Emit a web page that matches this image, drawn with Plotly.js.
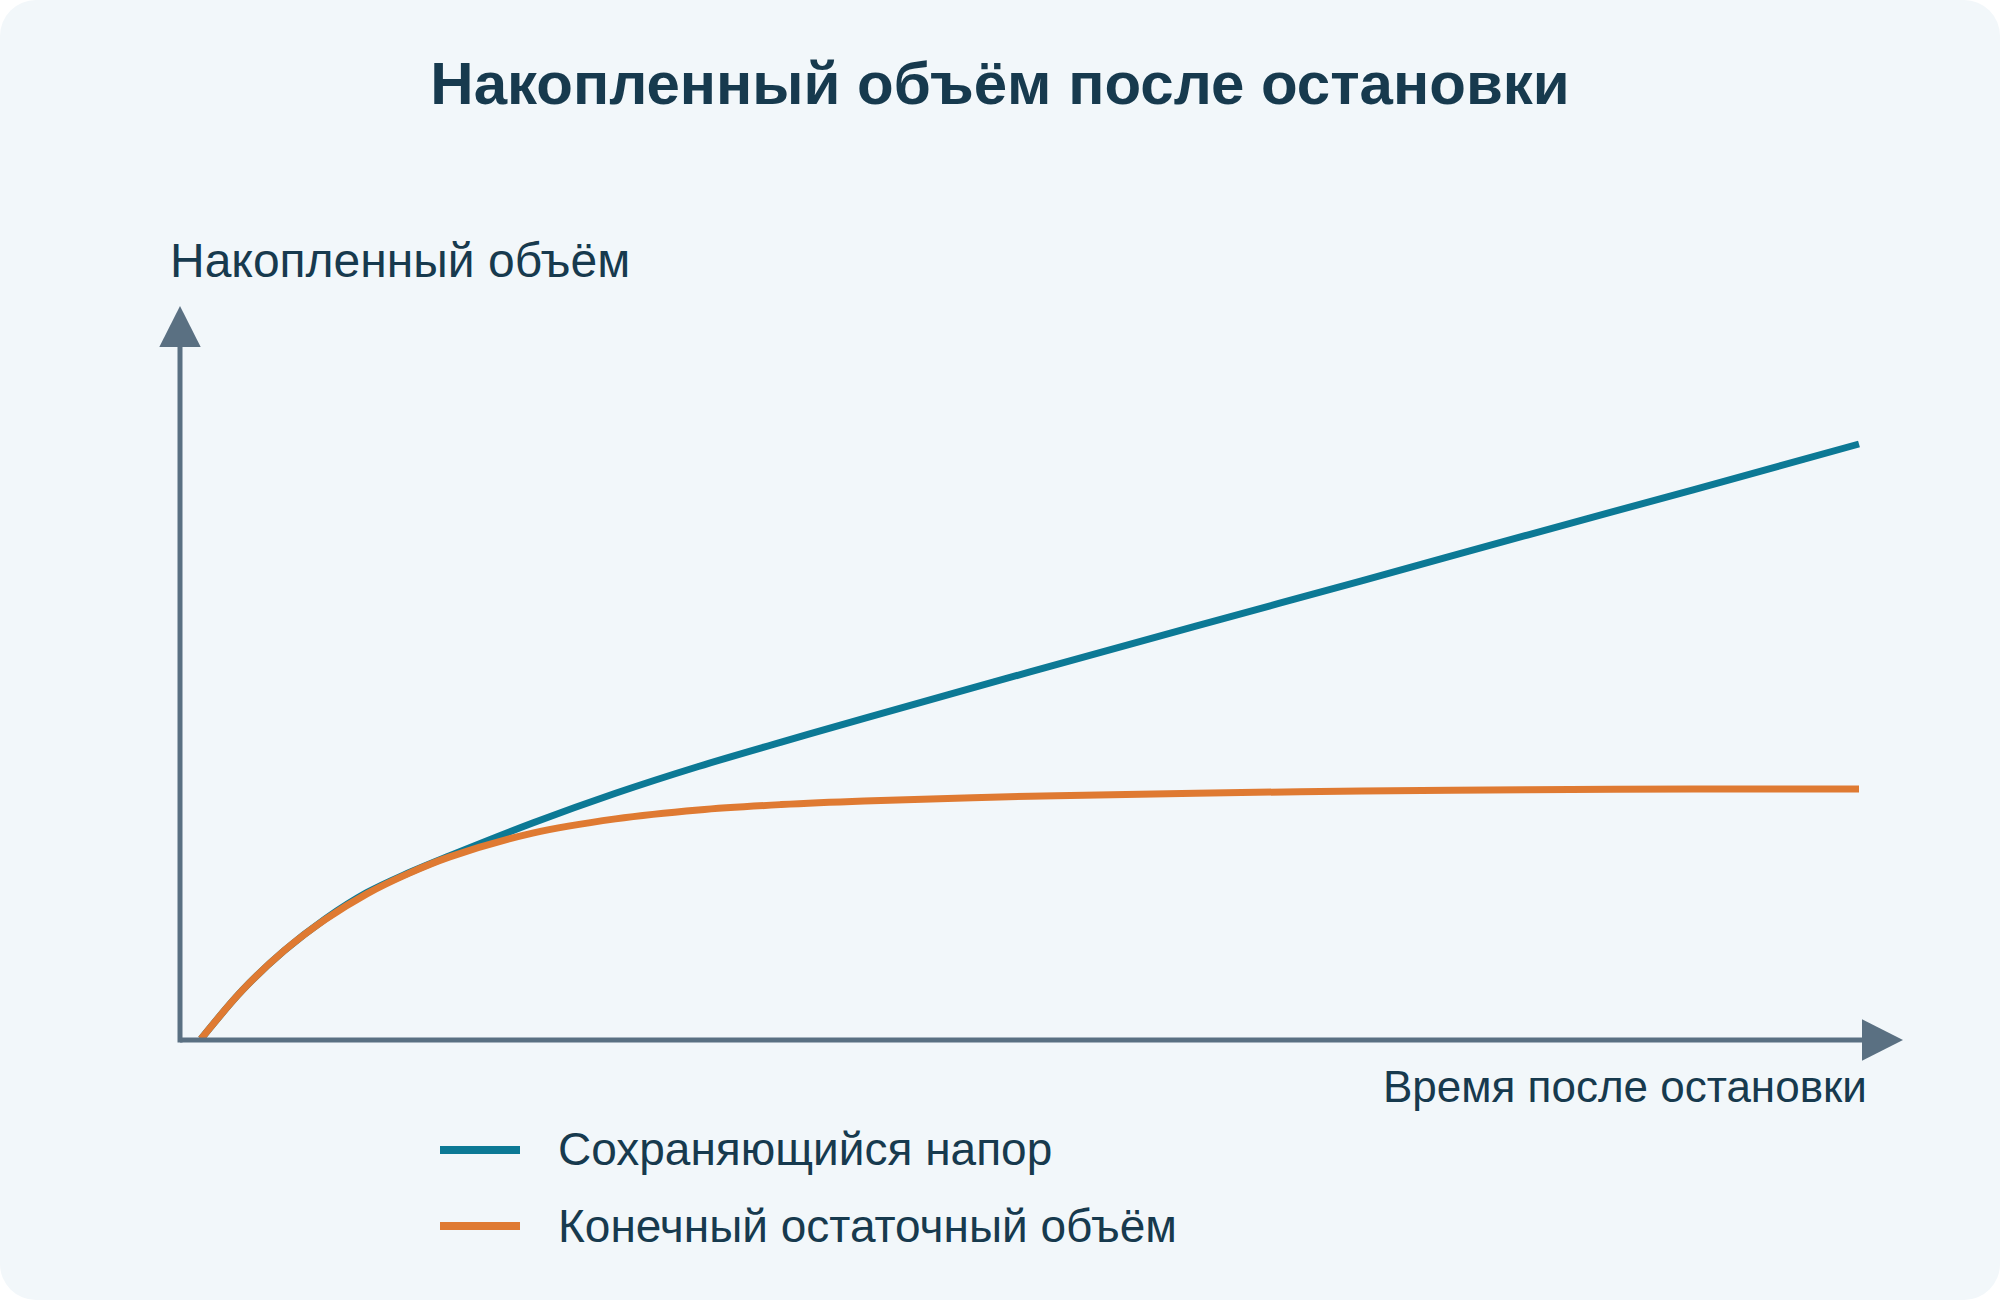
<!DOCTYPE html>
<html>
<head>
<meta charset="utf-8">
<script src="https://cdn.plot.ly/plotly-3.0.1.min.js"></script>
<style>
html, body { margin: 0; padding: 0; background: #ffffff; }
#card { position: absolute; left: 0; top: 0; width: 2000px; height: 1300px; border-radius: 36px; background: #f2f7fa; overflow: hidden; }
#chart { width: 2000px; height: 1300px; }
</style>
</head>
<body>
<div id="card"><div id="chart"></div></div>
<script>
// ---- data ----
const chartTitle = "Накопленный объём после остановки";
const xAxisLabel = "Время после остановки";
const yAxisLabel = "Накопленный объём";
const seriesNames = ["Сохраняющийся напор", "Конечный остаточный объём"];
const time          = [0, 0.25, 0.5, 0.75, 1, 1.25, 1.5, 2, 2.5, 3, 3.5, 4, 5, 6, 7, 8, 9, 10];
const sustainedHead = [0, 0.82, 1.48, 2.02, 2.46, 2.79, 3.08, 3.63, 4.13, 4.58, 4.99, 5.39, 6.17, 6.94, 7.70, 8.47, 9.23, 10.0];
const finiteVolume  = [0, 0.82, 1.48, 2.01, 2.44, 2.78, 3.06, 3.46, 3.70, 3.85, 3.94, 4.00, 4.08, 4.13, 4.17, 4.19, 4.20, 4.20];

// ---- style ----
const W = 2000, H = 1300;
const plotL = 180, plotR = 1903, plotT = 306, plotB = 1040;
const textColor = "#173a4e";
const axisColor = "#5a7082";
const seriesColors = ["#0c7995", "#df7a32"];
const font = "Liberation Sans, Arial, sans-serif";

const px = x => (x - plotL) / (plotR - plotL);
const py = y => (plotB - y) / (plotB - plotT);

const traces = [
  { x: time, y: sustainedHead, name: seriesNames[0], type: "scatter", mode: "lines",
    line: { color: seriesColors[0], width: 7, shape: "spline", smoothing: 1 }, hoverinfo: "skip" },
  { x: time, y: finiteVolume, name: seriesNames[1], type: "scatter", mode: "lines",
    line: { color: seriesColors[1], width: 7, shape: "spline", smoothing: 1 }, hoverinfo: "skip" }
];

const xPerPx = 10 / (1859 - 201);
const yPerPx = 10 / (1039 - 444);

const shapes = [
  // x axis line + arrow
  { type: "line", xref: "paper", yref: "paper", x0: 0, x1: px(1864), y0: 0, y1: 0,
    line: { color: axisColor, width: 5 } },
  { type: "path", xref: "paper", yref: "paper", fillcolor: axisColor, line: { width: 0 },
    path: `M ${px(1862)},${py(1019.3)} L 1,0 L ${px(1862)},${py(1060.7)} Z` },
  // y axis line + arrow
  { type: "line", xref: "paper", yref: "paper", x0: 0, x1: 0, y0: py(1042.5), y1: py(345),
    line: { color: axisColor, width: 5 } },
  { type: "path", xref: "paper", yref: "paper", fillcolor: axisColor, line: { width: 0 },
    path: `M ${px(159.3)},${py(347)} L 0,1 L ${px(200.7)},${py(347)} Z` },
  // legend swatches
  { type: "line", xref: "paper", yref: "paper", x0: px(440), x1: px(520), y0: py(1150), y1: py(1150),
    line: { color: seriesColors[0], width: 8 } },
  { type: "line", xref: "paper", yref: "paper", x0: px(440), x1: px(520), y0: py(1226), y1: py(1226),
    line: { color: seriesColors[1], width: 8 } }
];

const ann = (text, x, y, size, xanchor) => ({
  text, xref: "paper", yref: "paper", x: px(x), y: py(y), xanchor, yanchor: "middle",
  showarrow: false, font: { family: font, size, color: textColor }
});

const annotations = [
  ann(yAxisLabel, 168, 277 - 0.35 * 48, 48, "left"),
  ann(xAxisLabel, 1869, 1102 - 0.35 * 44, 44, "right"),
  ann(seriesNames[0], 556, 1165 - 0.35 * 46, 46, "left"),
  ann(seriesNames[1], 556, 1242 - 0.35 * 46, 46, "left")
];

const layout = {
  width: W, height: H,
  margin: { l: plotL, r: W - plotR, t: plotT, b: H - plotB, pad: 0 },
  paper_bgcolor: "rgba(0,0,0,0)",
  plot_bgcolor: "rgba(0,0,0,0)",
  showlegend: false,
  title: {
    text: "<b>" + chartTitle + "</b>",
    font: { family: font, size: 60, color: textColor },
    x: 0.5, xref: "container", xanchor: "center",
    y: 1 - 83 / H, yref: "container", yanchor: "middle"
  },
  xaxis: {
    range: [(plotL - 201) * xPerPx, (plotR - 201) * xPerPx],
    showgrid: false, zeroline: false, showticklabels: false, showline: false, ticks: "", fixedrange: true
  },
  yaxis: {
    range: [(1039 - plotB) * yPerPx, (1039 - plotT) * yPerPx],
    showgrid: false, zeroline: false, showticklabels: false, showline: false, ticks: "", fixedrange: true
  },
  shapes, annotations
};

Plotly.newPlot("chart", traces, layout, { displayModeBar: false, staticPlot: true });
</script>
</body>
</html>
